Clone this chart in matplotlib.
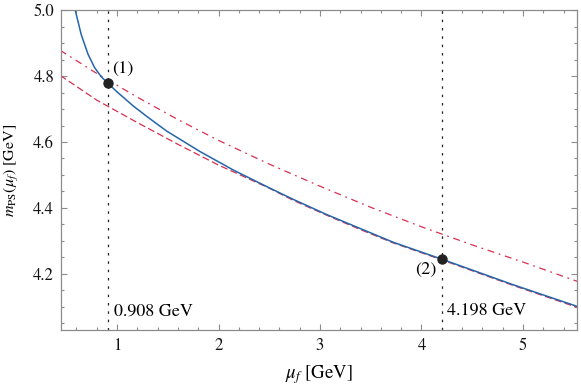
import matplotlib
matplotlib.use("Agg")
import matplotlib.pyplot as plt
from matplotlib.ticker import MultipleLocator, FixedLocator, FixedFormatter

# ---- data ----
blue_mu = [0.588, 0.647, 0.713, 0.778, 0.844, 0.908, 1.0, 1.161, 1.3, 1.49, 1.818,
           2.146, 2.507, 2.737, 3.066, 3.394, 3.722, 4.198, 4.905, 5.54]
blue_m = [5.000, 4.926, 4.867, 4.826, 4.798, 4.779, 4.752, 4.709, 4.676, 4.633, 4.571,
          4.515, 4.460, 4.426, 4.380, 4.338, 4.296, 4.245, 4.167, 4.101]

dashed_mu = [0.44, 0.8, 1.2, 1.6, 2.0, 2.5, 2.737, 3.066, 3.394, 3.722, 4.198, 4.905, 5.54]
dashed_m = [4.802, 4.727, 4.659, 4.593, 4.530, 4.460, 4.423, 4.378, 4.335, 4.294, 4.243, 4.165, 4.098]

dashdot_mu = [0.44, 0.8, 1.2, 1.6, 2.0, 2.5, 3.0, 3.5, 4.0, 4.5, 5.0, 5.54]
dashdot_m = [4.878, 4.808, 4.736, 4.668, 4.605, 4.533, 4.466, 4.402, 4.343, 4.288, 4.236, 4.177]

points_mu = [0.908, 4.198]
points_m = [4.779, 4.245]
point_labels = ["(1)", "(2)"]
vline_labels = ["0.908 GeV", "4.198 GeV"]

xticks = [1, 2, 3, 4, 5]
xticklabels = ["1", "2", "3", "4", "5"]
yticks = [4.2, 4.4, 4.6, 4.8, 5.0]
yticklabels = ["4.2", "4.4", "4.6", "4.8", "5.0"]

# ---- style ----
plt.rcParams["font.family"] = ["STIXGeneral", "DejaVu Serif"]
plt.rcParams["mathtext.fontset"] = "stix"
plt.rcParams["lines.scale_dashes"] = False

BLUE = "#2465aa"
RED = "#d8304f"
FRAME = "#8c8c8c"

fig = plt.figure(figsize=(5.81, 3.88), dpi=100)
ax = fig.add_axes([0.105, 0.1495, 0.888, 0.8245])

ax.plot(dashed_mu, dashed_m, color=RED, lw=0.9, dashes=(5.0, 2.4))
ax.plot(dashdot_mu, dashdot_m, color=RED, lw=0.9, dashes=(5.0, 3.4, 1.3, 3.4))
ax.plot(blue_mu, blue_m, color=BLUE, lw=1.1)

for xv in points_mu:
    ax.axvline(xv, color="#222222", lw=0.9, dashes=(1.8, 4.2))

ax.plot(points_mu, points_m, "o", color="#222222", ms=6.5, zorder=5)

ax.text(0.95, 4.818, point_labels[0], fontsize=13, ha="left", va="center")
ax.text(4.153, 4.212, point_labels[1], fontsize=13, ha="right", va="center")
ax.text(0.97, 4.086, vline_labels[0], fontsize=13, ha="left", va="center")
ax.text(4.248, 4.088, vline_labels[1], fontsize=13, ha="left", va="center")

ax.set_xlim(0.448, 5.532)
ax.set_ylim(4.03, 5.0)

ax.xaxis.set_major_locator(FixedLocator(xticks))
ax.xaxis.set_major_formatter(FixedFormatter(xticklabels))
ax.yaxis.set_major_locator(FixedLocator(yticks))
ax.yaxis.set_major_formatter(FixedFormatter(yticklabels))
ax.xaxis.set_minor_locator(MultipleLocator(0.2))
ax.yaxis.set_minor_locator(MultipleLocator(0.05))

for s in ax.spines.values():
    s.set_color(FRAME)
    s.set_linewidth(0.9)

ax.tick_params(which="both", direction="in", top=True, right=True, color=FRAME, width=0.8)
ax.tick_params(which="major", length=4.0, labelsize=12, pad=5, labelcolor="#111111")
ax.tick_params(axis="x", which="major", pad=6)
ax.tick_params(which="minor", length=2.2)

ax.set_xlabel(r"$\mu_f$ [GeV]", fontsize=13.5, labelpad=6)
ax.set_ylabel(r"$m_{\rm PS}(\mu_f)$ [GeV]", fontsize=11.5, labelpad=9)

fig.savefig("out.png", dpi=100)
